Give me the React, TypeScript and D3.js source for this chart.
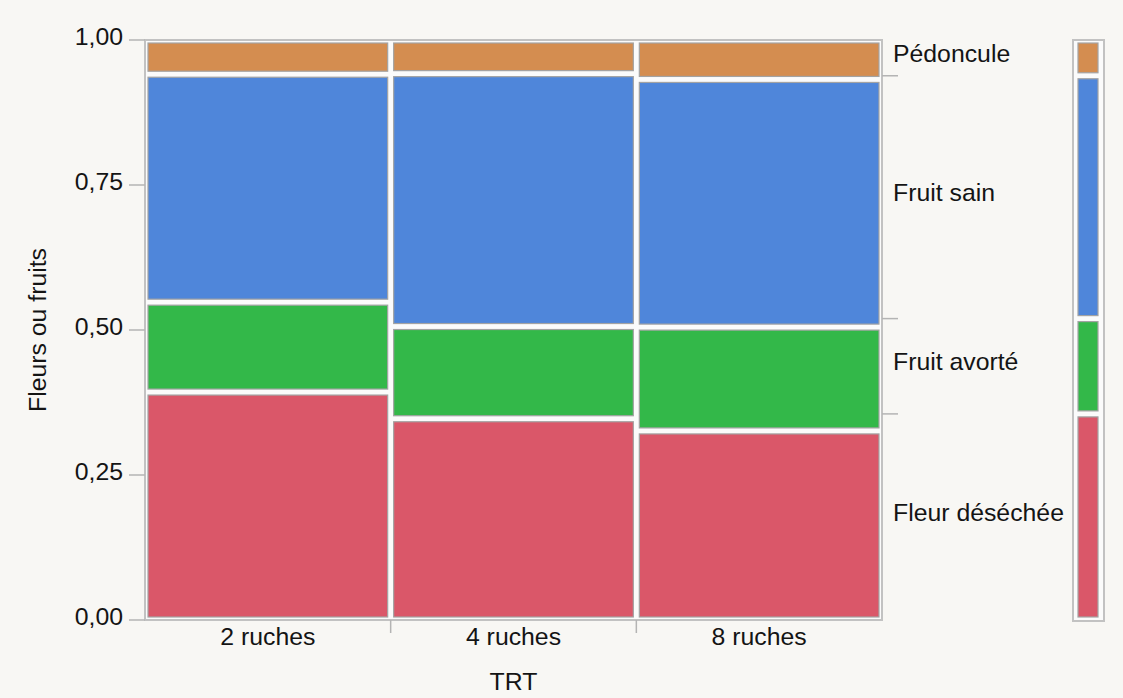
import React from "react";
import * as d3 from "d3";

const categories = ["2 ruches", "4 ruches", "8 ruches"];
const colWeights = [1, 1, 1];
const levels = ["Fleur déséchée", "Fruit avorté", "Fruit sain", "Pédoncule"];
const fleurDesechee = [0.393, 0.347, 0.326];
const fruitAvorte = [0.155, 0.159, 0.179];
const fruitSain = [0.393, 0.436, 0.427];
const pedoncule = [0.059, 0.058, 0.068];
const colors = ["#da5769", "#33b849", "#4f86da", "#d48d50"];
const yTicks = [0, 0.25, 0.5, 0.75, 1];
const yTickLabels = ["0,00", "0,25", "0,50", "0,75", "1,00"];

const W = 1123;
const H = 698;
const FONT = "'Liberation Sans', Arial, Helvetica, sans-serif";
const TEXT = "#141414";
const GRID = "#b4b4b4";
const FS = 24.8;

export default function App() {
  const series = [fleurDesechee, fruitAvorte, fruitSain, pedoncule];
  const x0 = 145, x1 = 882, yTop = 40, yBot = 620;
  const y = d3.scaleLinear().domain([0, 1]).range([yBot, yTop]);
  const totalW = d3.sum(colWeights);
  const cumW = [0, ...d3.cumsum(colWeights)];
  const x = d3.scaleLinear().domain([0, totalW]).range([x0, x1]);
  const inset = 3;

  const cells: any[] = [];
  categories.forEach((c, i) => {
    let acc = 0;
    series.forEach((s, k) => {
      const a = acc, b = acc + s[i];
      acc = b;
      cells.push({ key: c + k, xa: x(cumW[i]), xb: x(cumW[i + 1]), ya: y(b), yb: y(a), color: colors[k] });
    });
  });

  // marginal distribution (column-weighted)
  const marg = series.map((s) => d3.sum(s.map((v, i) => v * colWeights[i])) / totalW);
  const margCum: number[] = [0, ...d3.cumsum(marg)];
  const lx0 = 1073, lx1 = 1104;

  return (
    <svg width={W} height={H} style={{ position: "absolute", left: 0, top: 0 }} fontFamily={FONT}>
      <rect x={0} y={0} width={W} height={H} fill="#f8f7f4" />
      {/* plot frame */}
      <rect x={x0} y={yTop} width={x1 - x0} height={yBot - yTop} fill="#fbfbfb" stroke="#c2c2c2" strokeWidth={2} />
      {cells.map((d) => (
        <rect key={d.key} x={d.xa + inset} y={d.ya + inset} width={d.xb - d.xa - 2 * inset} height={d.yb - d.ya - 2 * inset}
          fill={d.color} stroke="#a3a3a3" strokeWidth={1.2} />
      ))}
      {/* y axis */}
      {yTicks.map((t, i) => (
        <g key={t}>
          <line x1={129} x2={x0} y1={y(t)} y2={y(t)} stroke={GRID} strokeWidth={1.5} />
          <text x={123} y={y(t)} dy={5} textAnchor="end" fontSize={FS} fill={TEXT}>{yTickLabels[i]}</text>
        </g>
      ))}
      <text transform={`translate(46,330) rotate(-90)`} textAnchor="middle" fontSize={FS} fill={TEXT}>Fleurs ou fruits</text>
      {/* x axis */}
      {cumW.slice(1, -1).map((w, i) => (
        <line key={i} x1={x(w)} x2={x(w)} y1={yBot} y2={633} stroke={GRID} strokeWidth={1.5} />
      ))}
      {categories.map((c, i) => (
        <text key={c} x={(x(cumW[i]) + x(cumW[i + 1])) / 2} y={645} textAnchor="middle" fontSize={FS} fill={TEXT}>{c}</text>
      ))}
      <text x={(x0 + x1) / 2} y={690} textAnchor="middle" fontSize={FS} fill={TEXT}>TRT</text>
      {/* right axis */}
      {margCum.slice(1, -1).map((v, i) => (
        <line key={i} x1={x1} x2={898} y1={y(v)} y2={y(v)} stroke={GRID} strokeWidth={1.5} />
      ))}
      {levels.map((l, k) => (
        <text key={l} x={893} y={(y(margCum[k]) + y(margCum[k + 1])) / 2} dy={4} fontSize={FS} fill={TEXT}>{l}</text>
      ))}
      {/* legend bar */}
      <rect x={lx0} y={yTop} width={lx1 - lx0} height={yBot - yTop + 1} fill="#fbfbfb" stroke="#c2c2c2" strokeWidth={2} />
      {levels.map((l, k) => (
        <rect key={l} x={lx0 + 5} y={y(margCum[k + 1]) + inset} width={lx1 - lx0 - 11}
          height={y(margCum[k]) - y(margCum[k + 1]) - 2 * inset} fill={colors[k]} stroke="#a3a3a3" strokeWidth={1.2} />
      ))}
    </svg>
  );
}
